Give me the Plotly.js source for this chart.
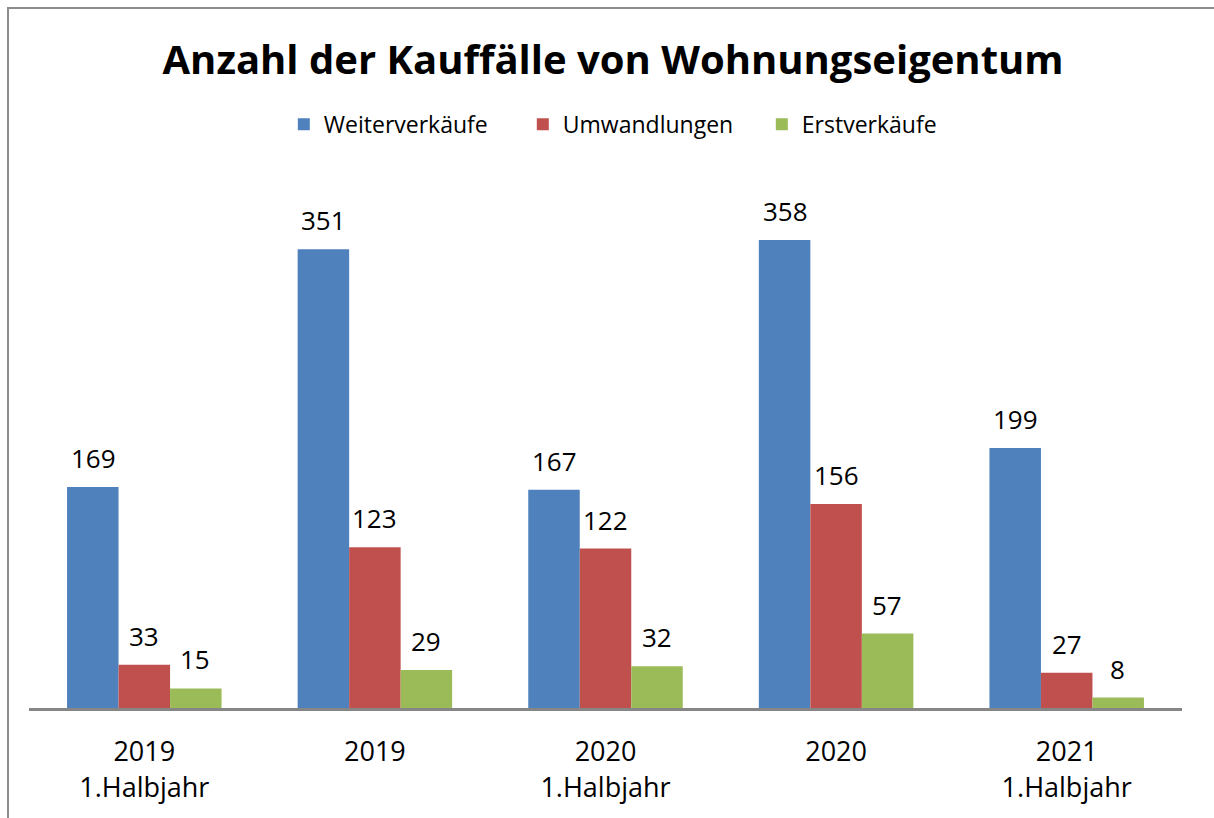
<!DOCTYPE html>
<html>
<head>
<meta charset="utf-8">
<script src="https://cdn.plot.ly/plotly-3.0.1.min.js"></script>
<style>
html,body{margin:0;padding:0;background:#fff;overflow:hidden;}
#frame{position:absolute;left:7px;top:7px;width:1240px;height:840px;border:2px solid #8c8c8c;box-sizing:border-box;}
#chart{position:absolute;left:0;top:0;width:1214px;height:818px;}
</style>
</head>
<body>
<div id="frame"></div>
<div id="chart"></div>
<script>
const categories = ["2019<br>1.Halbjahr", "2019", "2020<br>1.Halbjahr", "2020", "2021<br>1.Halbjahr"];
const seriesNames = ["Weiterverkäufe", "Umwandlungen", "Erstverkäufe"];
const weiterverkaeufe = [169, 351, 167, 358, 199];
const umwandlungen = [33, 123, 122, 156, 27];
const erstverkaeufe = [15, 29, 32, 57, 8];
const colors = ["#4f81bd", "#c0504d", "#9bbb59"];
const allSeries = [weiterverkaeufe, umwandlungen, erstverkaeufe];

const xIdx = categories.map((c, i) => i);
const traces = allSeries.map((vals, s) => ({
  type: "bar",
  name: seriesNames[s],
  x: xIdx,
  y: vals,
  marker: {color: colors[s], line: {width: 0}},
  hoverinfo: "none"
}));

const shifts = [-51, 0, 51];
const annotations = [];
allSeries.forEach((vals, s) => {
  vals.forEach((v, i) => {
    annotations.push({
      x: i, y: v, xref: "x", yref: "y",
      text: String(v), showarrow: false,
      xshift: shifts[s], yshift: 2, yanchor: "bottom",
      font: {family: "Open Sans, sans-serif", size: 26, color: "#000"},
      borderpad: 8
    });
  });
});

const layout = {
  width: 1214, height: 818,
  paper_bgcolor: "rgba(0,0,0,0)", plot_bgcolor: "rgba(0,0,0,0)",
  margin: {l: 29, r: 32, t: 170, b: 110},
  title: {
    text: "<b>Anzahl der Kauffälle von Wohnungseigentum</b>",
    font: {family: "Open Sans, sans-serif", size: 40, color: "#000"},
    x: 0.505, xanchor: "center", y: 0.927, yanchor: "middle"
  },
  showlegend: true,
  legend: {
    orientation: "h", x: 0.221, xanchor: "left", y: 1.085, yanchor: "middle",
    font: {family: "Open Sans, sans-serif", size: 23, color: "#000"},
    itemwidth: 30, traceorder: "normal", entrywidth: 194, entrywidthmode: "pixels"
  },
  barmode: "group",
  bargap: 0.33,
  bargroupgap: 0,
  xaxis: {
    tickmode: "array", tickvals: xIdx, ticktext: categories,
    range: [-0.5, 4.5],
    showline: true, linecolor: "#868686", linewidth: 3,
    ticks: "", showgrid: false, zeroline: false, ticklabelstandoff: 18,
    tickfont: {family: "Open Sans, sans-serif", size: 27, color: "#000"}
  },
  yaxis: {
    range: [0, 411.6], visible: false, showgrid: false, zeroline: false, fixedrange: true
  },
  annotations: annotations
};

Plotly.newPlot("chart", traces, layout, {displayModeBar: false, staticPlot: true});
</script>
</body>
</html>
